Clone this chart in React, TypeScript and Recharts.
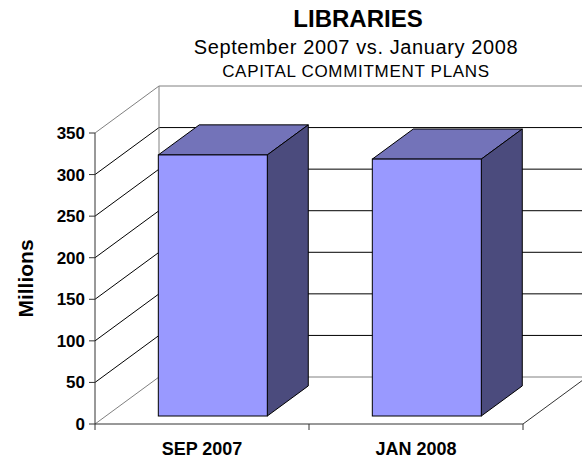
import React from 'react';
import { BarChart, Bar, XAxis, YAxis, CartesianGrid, ReferenceArea, Label } from 'recharts';

// ---- data ----
const categories = ['SEP 2007', 'JAN 2008'];
const values = [314, 309];
const yTicks = [0, 50, 100, 150, 200, 250, 300, 350];
const yMax = 350;
const titleText = 'LIBRARIES';
const subtitleText = 'September 2007 vs. January 2008';
const subsubtitleText = 'CAPITAL COMMITMENT PLANS';
const yAxisTitle = 'Millions';

const data = categories.map((name, i) => ({ name, value: values[i] }));

// ---- style ----
const FONT = "'Liberation Sans', Arial, Helvetica, sans-serif";
const WALL_DX = 64;
const WALL_DY = -47;
const BAR_FRONT = 0.17;
const BAR_BACK = 0.81;
const FRAME = '#808080';
const AXIS = '#333333';
const FRONT_FILL = '#9999FF';
const TOP_FILL = '#7373B9';
const SIDE_FILL = '#4B4B7D';

const Bar3D = (props: any) => {
  const { x, y, width, height } = props;
  if (x == null || y == null) return <g />;
  const ax = WALL_DX * BAR_FRONT;
  const ay = WALL_DY * BAR_FRONT;
  const bx = WALL_DX * BAR_BACK;
  const by = WALL_DY * BAR_BACK;
  const fx = x + ax;
  const fy = y + ay;
  const p = (pts: number[][]) => pts.map((q) => q.join(',')).join(' ');
  return (
    <g>
      <polygon
        points={p([[fx, fy], [x + bx, y + by], [x + width + bx, y + by], [fx + width, fy]])}
        fill={TOP_FILL}
        stroke="#000"
        strokeWidth={1}
        strokeLinejoin="round"
      />
      <polygon
        points={p([[fx + width, fy], [x + width + bx, y + by], [x + width + bx, y + height + by], [fx + width, fy + height]])}
        fill={SIDE_FILL}
        stroke="#000"
        strokeWidth={1}
        strokeLinejoin="round"
      />
      <rect x={fx} y={fy} width={width} height={height} fill={FRONT_FILL} stroke="#000" strokeWidth={1} />
    </g>
  );
};

const gridLine = (props: any) => {
  const { x1, y1, x2, index } = props;
  if (index === 0 || index === yTicks.length - 1) return <g key={props.key} />;
  return (
    <g key={props.key}>
      <line x1={x1} y1={y1} x2={x1 + WALL_DX} y2={y1 + WALL_DY} stroke="#000" strokeWidth={1} />
      <line x1={x1 + WALL_DX} y1={y1 + WALL_DY} x2={x2 + WALL_DX} y2={y1 + WALL_DY} stroke="#000" strokeWidth={1} />
    </g>
  );
};

const Walls = (props: any) => {
  const { x, y, width, height } = props;
  if (x == null) return <g />;
  const b = y + height;
  const n = categories.length;
  const ticks = [];
  for (let i = 0; i <= n; i++) {
    const tx = x + (i * width) / n;
    ticks.push(<line key={i} x1={tx} y1={b} x2={tx} y2={b + 6} stroke={AXIS} strokeWidth={1} />);
  }
  return (
    <g>
      <line x1={x} y1={y} x2={x + WALL_DX} y2={y + WALL_DY} stroke={FRAME} />
      <line x1={x} y1={b} x2={x + WALL_DX} y2={b + WALL_DY} stroke={FRAME} />
      <line x1={x + WALL_DX} y1={y + WALL_DY} x2={x + WALL_DX} y2={b + WALL_DY} stroke={FRAME} />
      <line x1={x + WALL_DX} y1={y + WALL_DY} x2={x + width + WALL_DX} y2={y + WALL_DY} stroke={FRAME} />
      <line x1={x + WALL_DX} y1={b + WALL_DY} x2={x + width + WALL_DX} y2={b + WALL_DY} stroke={FRAME} />
      <line x1={x + width} y1={b} x2={x + width + WALL_DX} y2={b + WALL_DY} stroke={AXIS} />
      {ticks}
    </g>
  );
};

const YTitle = (props: any) => {
  const vb = props.viewBox || { x: 0, y: 133, width: 95, height: 291 };
  const cx = vb.x + 25;
  const cy = vb.y + vb.height / 2;
  return (
    <text
      x={cx}
      y={cy}
      transform={`rotate(-90 ${cx} ${cy})`}
      textAnchor="middle"
      dominantBaseline="central"
      fontSize={21}
      fontWeight="bold"
      fill="#000"
      fontFamily={FONT}
    >
      {yAxisTitle}
    </text>
  );
};

export default function App() {
  return (
    <div style={{ position: 'absolute', left: 0, top: 0, width: 582, height: 458, background: '#fff', fontFamily: FONT }}>
      <svg width={582} height={100} style={{ position: 'absolute', left: 0, top: 0 }}>
        <text x={358} y={27} textAnchor="middle" fontSize={24} fontWeight="bold" fill="#000" fontFamily={FONT}>
          {titleText}
        </text>
        <text x={356} y={54} textAnchor="middle" fontSize={20} letterSpacing={0.6} fill="#000" fontFamily={FONT}>
          {subtitleText}
        </text>
        <text x={356} y={77} textAnchor="middle" fontSize={17} letterSpacing={0.7} fill="#000" fontFamily={FONT}>
          {subsubtitleText}
        </text>
      </svg>
      <div style={{ position: 'absolute', left: 0, top: 0 }}>
        <BarChart
          width={582}
          height={458}
          data={data}
          margin={{ top: 133, right: 59, bottom: 0, left: 0 }}
          barCategoryGap="24.5%"
        >
          <CartesianGrid horizontal={gridLine} vertical={false} />
          <ReferenceArea y1={0} y2={yMax} ifOverflow="visible" shape={Walls} />
          <XAxis
            dataKey="name"
            height={34}
            tickLine={false}
            tickMargin={12}
            axisLine={{ stroke: AXIS }}
            tick={{ fontSize: 18, fontWeight: 'bold', fill: '#000' }}
            interval={0}
          />
          <YAxis
            width={95}
            domain={[0, yMax]}
            ticks={yTicks}
            tickSize={6}
            tickMargin={4}
            axisLine={{ stroke: AXIS }}
            tickLine={{ stroke: AXIS }}
            tick={{ fontSize: 17, fontWeight: 'bold', fill: '#000' }}
            interval={0}
            label={<Label content={YTitle} />}
          />
          <Bar dataKey="value" shape={Bar3D} isAnimationActive={false} />
        </BarChart>
      </div>
    </div>
  );
}
